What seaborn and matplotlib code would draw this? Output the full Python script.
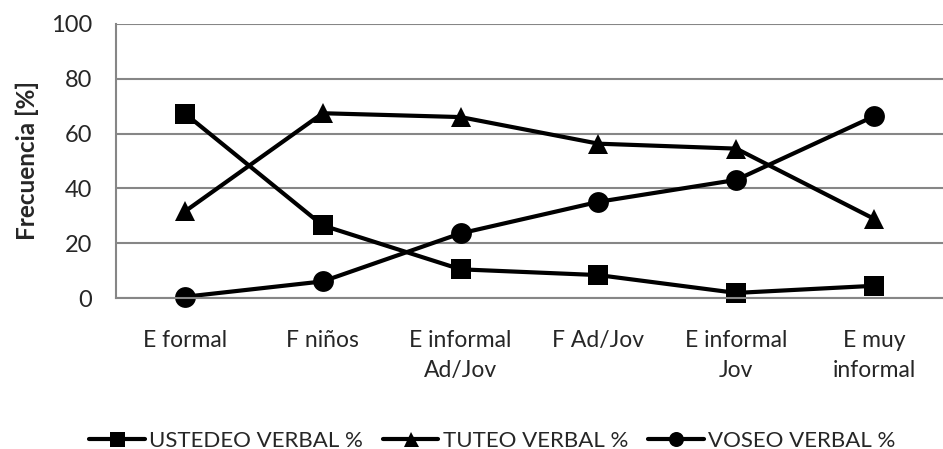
import pandas as pd
import matplotlib.pyplot as plt
import seaborn as sns

# Chart data
categories = ["E formal", "F niños", "E informal\nAd/Jov", "F Ad/Jov", "E informal\nJov", "E muy\ninformal"]
ustedeo = [67.3, 26.5, 10.5, 8.4, 1.9, 4.5]
tuteo = [31.6, 67.4, 66.0, 56.3, 54.5, 28.9]
voseo = [0.5, 6.1, 23.6, 35.1, 43.1, 66.3]
series_names = ["USTEDEO VERBAL %", "TUTEO VERBAL %", "VOSEO VERBAL %"]

rows = []
for name, vals in zip(series_names, [ustedeo, tuteo, voseo]):
    for i, v in enumerate(vals):
        rows.append({"pos": i, "serie": name, "valor": v})
df = pd.DataFrame(rows)

sns.set_style("white")
plt.rcParams["font.family"] = ["Lato", "DejaVu Sans"]

fig = plt.figure(figsize=(9.43, 4.49), dpi=100)
ax = fig.add_axes([0.123, 0.336, 0.877, 0.611])

sns.lineplot(data=df, x="pos", y="valor", hue="serie", style="serie",
             palette=["black"] * 3, markers=["s", "^", "o"], dashes=False,
             linewidth=3, markersize=15, markeredgewidth=0, ax=ax, legend=True)
for ln in ax.lines:
    ln.set_clip_on(False)

ax.set_ylim(0, 100)
ax.set_xlim(-0.5, 5.5)
ax.set_yticks(range(0, 101, 20))
ax.set_xticks(range(len(categories)))
ax.set_xticklabels(categories, fontsize=16.5, linespacing=1.5)
ax.tick_params(axis="y", labelsize=17, length=0, pad=17)
ax.tick_params(axis="x", length=0, pad=23)
ax.yaxis.grid(True, color="#868686", linewidth=1.5)
ax.set_axisbelow(True)
for s in ["top", "right"]:
    ax.spines[s].set_visible(False)
ax.spines["left"].set_color("#868686")
ax.spines["left"].set_linewidth(1.5)
ax.spines["bottom"].set_color("#868686")
ax.spines["bottom"].set_linewidth(1.5)
ax.set_xlabel("")
ax.set_ylabel("Frecuencia [%]", fontsize=17.5, fontweight="bold", labelpad=9)

handles, labels = ax.get_legend_handles_labels()
ax.legend(handles, labels, loc="center", bbox_to_anchor=(0.455, -0.52), ncol=3,
          frameon=False, fontsize=16, handlelength=2.5, handletextpad=0.2,
          columnspacing=0.9, markerscale=0.72)

fig.savefig("out.png", dpi=100)
